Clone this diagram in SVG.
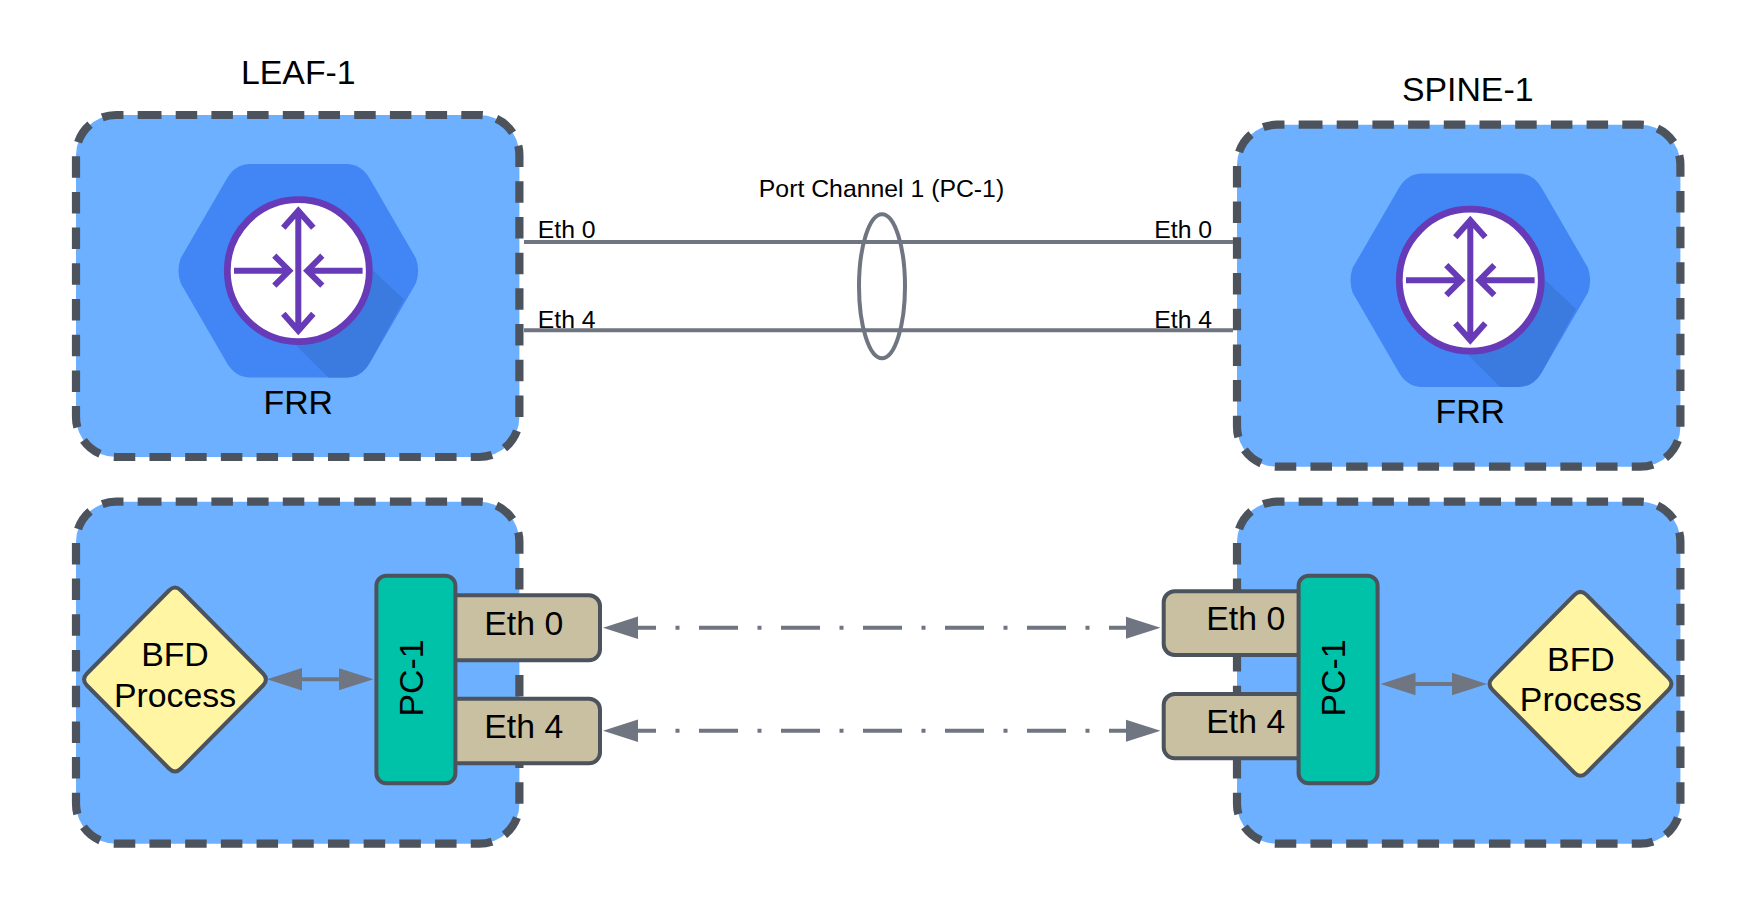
<svg xmlns="http://www.w3.org/2000/svg" xmlns:xlink="http://www.w3.org/1999/xlink" width="1751" height="920" viewBox="0 0 1751 920">
<style>
text{font-family:"Liberation Sans",Arial,sans-serif;fill:#000}
.t32{font-size:33.8px;text-anchor:middle}
.t24{font-size:24.8px;text-anchor:middle}
.box{fill:#6cb0ff;stroke:#4c535d;stroke-width:8.2;stroke-dasharray:21.5 14.2}
.diamond{fill:#fff5a3;stroke:#4c535d;stroke-width:4}
.pc{fill:#00c2a8;stroke:#4c535d;stroke-width:4}
.eth{fill:#c9c0a2;stroke:#4c535d;stroke-width:4}
.link{fill:none;stroke:#6f7681;stroke-width:4}
.dd{stroke-dasharray:39 19.5 4 19.5;stroke-dashoffset:20.5}
.arr{marker-start:url(#head);marker-end:url(#head)}
.ico{fill:none;stroke:#673ab7;stroke-width:6}
</style>
<defs>
<marker id="head" markerUnits="userSpaceOnUse" markerWidth="36" markerHeight="24" refX="0.5" refY="12" orient="auto-start-reverse">
<path d="M0 0.8L35 12L0 23.2Z" fill="#6f7681"/>
</marker>
<path id="frame" d="M64 0H403A40 40 0 0 1 443.4 40V302A40 40 0 0 1 403 342H40A40 40 0 0 1 0 302V40A40 40 0 0 1 40 0Z"/>
<g id="router">
<path fill="#4285f4" d="M-48 -106.7H48Q63 -106.7 71.5 -92L117.6 -12.5Q122 0 117.6 12.5L71.5 92Q63 106.7 48 106.7H-48Q-63 106.7 -71.5 92L-117.6 12.5Q-122 0 -117.6 -12.5L-71.5 -92Q-63 -106.7 -48 -106.7Z"/>
<path fill="#3b7be0" d="M75 0L105.7 28.7L71.5 92Q63 106.7 48 106.7H30L-1.7 75.3Z"/>
<circle r="71" fill="#fff" stroke="#673ab7" stroke-width="6.8"/>
<path class="ico" d="M0 -60V60M-15 -43L0 -60L15 -43M-15 43L0 60L15 43M-64.3 0H-9M-24 -15L-9 0L-24 15M64.3 0H9M24 -15L9 0L24 15"/>
</g>
<path id="dmd" d="M-6 -89Q0 -95 6 -89L88 -6Q94 0 88 6L6 89Q0 95 -6 89L-88 6Q-94 0 -88 -6Z"/>
</defs>

<g id="leaf-1-frr">
<use href="#frame" class="box" x="76" y="115"/>
<use href="#router" x="298.3" y="270.7"/>
<text class="t32" x="298.3" y="84.4">LEAF-1</text>
<text class="t32" x="298.3" y="414">FRR</text>
</g>
<g id="spine-1-frr">
<use href="#frame" class="box" x="1237" y="124.7"/>
<use href="#router" x="1470.3" y="280.2"/>
<text class="t32" x="1467.7" y="101.4">SPINE-1</text>
<text class="t32" x="1470.3" y="423.4">FRR</text>
</g>
<g id="leaf-1-bfd">
<use href="#frame" class="box" x="76" y="501.7"/>
</g>
<g id="spine-1-bfd">
<use href="#frame" class="box" x="1237" y="501.7"/>
</g>

<g id="leaf-bfd-process">
<use href="#dmd" class="diamond" x="175" y="679.5"/>
<text class="t32" x="175" y="666.4">BFD</text>
<text class="t32" x="175" y="707.4">Process</text>
</g>
<g id="leaf-eth0">
<rect class="eth" x="440" y="595.3" width="160" height="65" rx="11"/>
<text class="t32" x="523.8" y="634.7">Eth 0</text>
</g>
<g id="leaf-eth4">
<rect class="eth" x="440" y="698.7" width="160" height="64.6" rx="11"/>
<text class="t32" x="523.8" y="738">Eth 4</text>
</g>
<g id="leaf-pc1">
<rect class="pc" x="376.4" y="575.7" width="79" height="207.6" rx="10"/>
<text class="t32" transform="translate(423.4 678) rotate(-90)">PC-1</text>
</g>
<g id="spine-eth0">
<rect class="eth" x="1163.7" y="591.3" width="160" height="63.7" rx="11"/>
<text class="t32" x="1245.8" y="629.7">Eth 0</text>
</g>
<g id="spine-eth4">
<rect class="eth" x="1163.7" y="694" width="160" height="64.3" rx="11"/>
<text class="t32" x="1245.8" y="733">Eth 4</text>
</g>
<g id="spine-pc1">
<rect class="pc" x="1298.6" y="575.7" width="79" height="207.6" rx="10"/>
<text class="t32" transform="translate(1345.4 678) rotate(-90)">PC-1</text>
</g>
<g id="spine-bfd-process">
<use href="#dmd" class="diamond" x="1580.5" y="683.8"/>
<text class="t32" x="1580.9" y="670.7">BFD</text>
<text class="t32" x="1580.9" y="711.4">Process</text>
</g>

<g id="connectors">
<line class="link" x1="524" y1="242" x2="1233" y2="242"/>
<line class="link" x1="524" y1="330.3" x2="1233" y2="330.3"/>
<ellipse class="link" cx="882" cy="286.2" rx="23" ry="72"/>
<line class="link dd arr" x1="637.5" y1="627.7" x2="1126" y2="627.7"/>
<line class="link dd arr" x1="637.5" y1="730.7" x2="1126" y2="730.7"/>
<line class="link arr" x1="301.5" y1="679.3" x2="339" y2="679.3"/>
<line class="link arr" x1="1415" y1="684" x2="1452.5" y2="684"/>
</g>

<g id="labels">
<text class="t24" x="881.5" y="196.7">Port Channel 1 (PC-1)</text>
<text class="t24" x="566.7" y="237.7">Eth 0</text>
<text class="t24" x="566.7" y="327.7">Eth 4</text>
<text class="t24" x="1183.2" y="237.7">Eth 0</text>
<text class="t24" x="1183.2" y="327.7">Eth 4</text>
</g>
</svg>
